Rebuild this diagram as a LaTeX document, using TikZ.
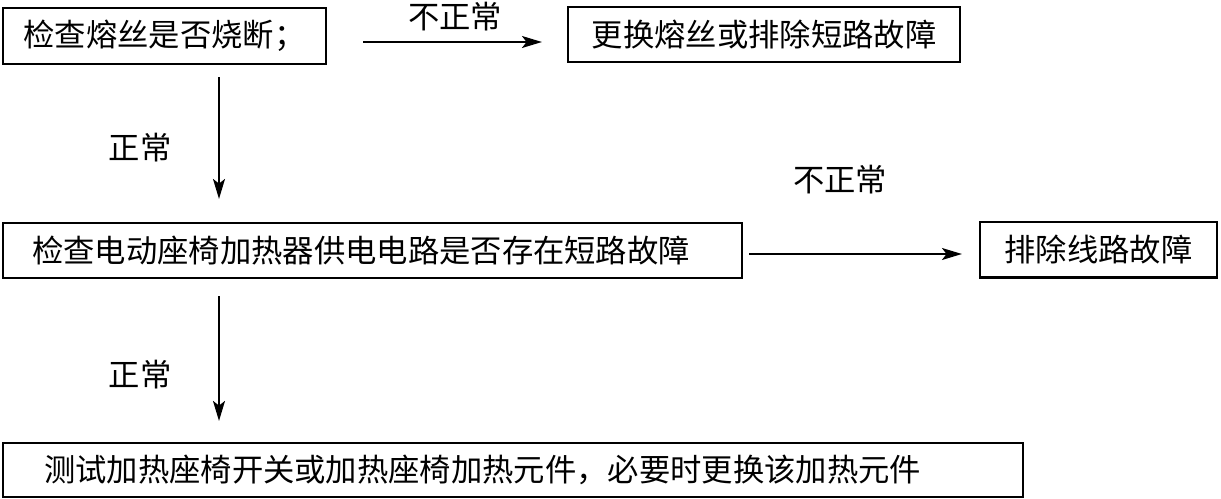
\documentclass[tikz,border=0pt]{standalone}
\usepackage{fontspec}
\setmainfont{Noto Sans CJK SC}
\usetikzlibrary{arrows.meta,calc}
\begin{document}
\begin{tikzpicture}[x=0.75pt,y=-0.75pt,
  box/.style={draw,line width=1.6pt,inner sep=0pt,font=\fontsize{23.5}{26}\selectfont},
  lbl/.style={font=\fontsize{23.5}{26}\selectfont,inner sep=0pt},
  arr/.style={line width=1.4pt,-{Stealth[length=15pt,width=9pt,inset=3.5pt]}}]
\useasboundingbox (0,0) rectangle (1221,499);
\node[box,minimum width=242.25pt,minimum height=42pt] (b1) at (164.5,36) {检查熔丝是否烧断；};
\node[box,minimum width=294pt,minimum height=41.25pt] (b2) at (764,34.5) {更换熔丝或排除短路故障};
\node[box,minimum height=41.25pt,inner xsep=21.75pt,text width=510.75pt,align=left] (b3) at (372.5,250.5) {检查电动座椅加热器供电电路是否存在短路故障};
\node[box,minimum width=177.75pt,minimum height=41.6pt] (b4) at (1098.5,249.75) {排除线路故障};
\node[box,minimum height=40.5pt,inner xsep=30.75pt,text width=703.5pt,align=left] (b5) at (513,470) {测试加热座椅开关或加热座椅加热元件，必要时更换该加热元件};
\draw[arr] ($(b1.east)+(36,6)$) coordinate (a1s) -- ($(b2.west)+(-25,7.5)$) coordinate (a1e);
\draw[arr] ($(b3.east)+(6,3.5)$) coordinate (a2s) -- ($(b4.west)+(-17,4.25)$) coordinate (a2e);
\draw[arr] ($(b1.south)+(54.5,12)$) coordinate (v1s) -- ($(b3.north-|b1.south)+(54.5,-23)$) coordinate (v1e);
\draw[arr] ($(b3.south-|b1.south)+(54.5,17)$) coordinate (v2s) -- ($(b5.north-|b1.south)+(54.5,-21)$) coordinate (v2e);
\node[lbl] (l1) at (455,17) {不正常};
\node[lbl] (l2) at (840,180) {不正常};
\node[lbl] (l3) at (140,148) {正常};
\node[lbl] (l4) at (140,375) {正常};
\end{tikzpicture}
\end{document}
